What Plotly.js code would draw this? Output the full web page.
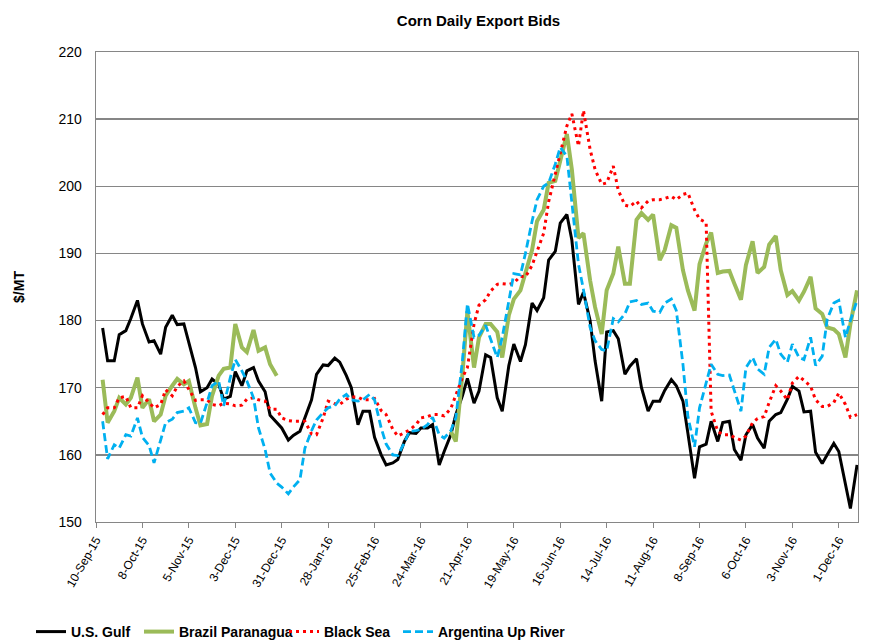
<!DOCTYPE html>
<html>
<head>
<meta charset="utf-8">
<script src="https://cdn.plot.ly/plotly-3.0.1.min.js"></script>
<style>html,body{margin:0;padding:0;background:#fff;}#chart{width:870px;height:643px;}</style>
</head>
<body>
<div id="chart"></div>
<script>
// Dates (Mondays & Thursdays)
const dates = [
"2015-09-14","2015-09-17","2015-09-21","2015-09-24","2015-09-28",
"2015-10-01","2015-10-05","2015-10-08","2015-10-12","2015-10-15","2015-10-19","2015-10-22","2015-10-26","2015-10-29",
"2015-11-02","2015-11-05","2015-11-09","2015-11-12","2015-11-16","2015-11-19","2015-11-23","2015-11-26","2015-11-30",
"2015-12-03","2015-12-07","2015-12-10","2015-12-14","2015-12-17","2015-12-21","2015-12-24","2015-12-28","2015-12-31",
"2016-01-04","2016-01-07","2016-01-11","2016-01-14","2016-01-18","2016-01-21","2016-01-25","2016-01-28",
"2016-02-01","2016-02-04","2016-02-08","2016-02-11","2016-02-15","2016-02-18","2016-02-22","2016-02-25","2016-02-29",
"2016-03-03","2016-03-07","2016-03-10","2016-03-14","2016-03-17","2016-03-21","2016-03-24","2016-03-28","2016-03-31",
"2016-04-04","2016-04-07","2016-04-11","2016-04-14","2016-04-18","2016-04-21","2016-04-25","2016-04-28",
"2016-05-02","2016-05-05","2016-05-09","2016-05-12","2016-05-16","2016-05-19","2016-05-23","2016-05-26","2016-05-30",
"2016-06-02","2016-06-06","2016-06-09","2016-06-13","2016-06-16","2016-06-20","2016-06-23","2016-06-27","2016-06-30",
"2016-07-04","2016-07-07","2016-07-11","2016-07-14","2016-07-18","2016-07-21","2016-07-25","2016-07-28",
"2016-08-01","2016-08-04","2016-08-08","2016-08-11","2016-08-15","2016-08-18","2016-08-22","2016-08-25","2016-08-29",
"2016-09-01","2016-09-05","2016-09-08","2016-09-12","2016-09-15","2016-09-19","2016-09-22","2016-09-26","2016-09-29",
"2016-10-03","2016-10-06","2016-10-10","2016-10-13","2016-10-17","2016-10-20","2016-10-24","2016-10-27","2016-10-31",
"2016-11-03","2016-11-07","2016-11-10","2016-11-14","2016-11-17","2016-11-21","2016-11-24","2016-11-28",
"2016-12-01","2016-12-05","2016-12-08","2016-12-12"
];

const usGulf = [
178.9,174.0,174.0,177.9,178.5,180.3,183.0,179.5,176.8,177.0,175.0,179.0,180.8,179.4,
179.5,176.8,173.0,169.4,170.0,171.3,170.5,168.3,168.7,
172.4,170.3,172.5,173.0,171.0,169.4,165.9,164.8,164.0,
162.2,162.9,163.5,165.5,168.2,172.0,173.4,173.3,
174.4,173.8,171.8,170.0,164.5,166.5,166.5,162.6,160.0,
158.5,158.8,159.3,162.0,163.3,163.2,164.0,164.0,164.5,
158.5,160.5,163.0,166.0,168.8,171.4,167.7,169.5,
174.9,174.5,168.5,166.5,173.3,176.5,173.9,176.4,182.6,
181.5,183.4,189.0,190.3,194.5,195.8,192.0,182.4,184.2,
180.0,174.0,168.0,178.3,178.5,177.3,172.0,173.2,
174.3,170.0,166.5,168.0,168.0,169.6,171.2,170.3,168.0,
163.2,156.5,161.2,161.6,165.0,162.0,164.8,165.0,160.8,
159.2,163.0,164.5,162.5,161.0,165.0,166.0,166.3,168.3,
170.2,169.5,166.4,166.5,160.4,158.7,160.0,161.7,
160.5,155.3,152.0,158.5
];

const brazil = [
171.2,164.8,166.5,168.5,167.5,168.5,171.5,167.0,168.3,165.0,166.0,168.8,170.3,171.3,
170.5,171.0,167.0,164.4,164.6,168.8,171.8,172.8,173.0,
179.5,176.0,175.3,178.6,175.5,176.0,173.5,171.8,null,
null,null,null,null,null,null,null,null,
null,null,null,null,null,null,null,null,null,
null,null,null,null,null,null,null,null,null,
null,null,163.5,162.0,172.0,181.4,173.0,177.5,
179.5,179.5,178.3,174.5,180.8,183.2,184.5,187.0,190.5,
194.8,196.5,200.5,200.8,203.8,207.8,202.5,192.3,193.0,
186.0,182.0,178.0,184.5,187.0,191.0,185.5,185.5,
195.0,196.0,195.0,195.8,189.0,190.5,194.2,193.8,187.5,
184.5,181.5,188.4,191.5,193.1,187.1,187.3,187.4,185.5,
183.1,188.3,191.8,187.1,188.0,191.3,192.6,187.5,183.8,
184.4,183.0,184.3,186.5,181.8,181.0,179.0,178.7,
178.0,174.5,179.5,184.5
];

const blackSea = [
166.0,167.0,167.0,168.5,168.7,167.0,167.0,168.8,167.8,167.0,167.5,169.7,168.8,170.2,
171.0,169.7,168.1,168.2,168.2,167.5,167.3,167.7,167.6,
167.3,167.4,168.3,168.5,168.2,168.0,166.8,166.8,165.5,
165.1,165.0,165.0,165.0,163.1,163.0,165.5,168.0,
167.6,167.5,168.3,168.6,168.6,168.2,168.2,168.4,166.6,
166.0,163.8,162.8,163.3,163.7,164.5,165.5,165.7,166.0,
166.0,165.8,166.9,168.8,171.5,173.0,179.5,182.3,
183.1,184.4,185.4,185.5,185.4,185.6,186.6,186.5,188.2,
190.3,193.0,197.7,201.8,204.8,209.0,210.8,206.0,211.3,
205.5,202.5,200.3,200.5,203.0,199.4,197.2,197.0,
197.8,196.8,197.8,198.0,198.0,198.2,198.5,198.0,198.8,
199.0,196.5,195.1,194.6,166.5,163.5,163.0,163.0,162.6,
162.2,162.8,164.8,165.4,165.7,167.8,170.3,169.5,168.2,
170.7,171.7,171.1,170.2,168.2,167.2,167.2,167.8,
169.2,167.5,165.6,166.0
];

const argentina = [
165.0,159.4,161.5,161.0,163.0,162.8,165.5,162.6,161.4,158.8,162.2,164.8,165.3,166.3,
166.5,167.0,164.8,164.7,167.8,170.3,171.0,167.3,171.5,
174.2,172.5,171.0,168.5,164.0,160.8,157.3,155.8,155.2,
154.2,155.2,156.3,161.0,163.6,165.2,166.3,167.0,
167.3,168.3,169.0,168.2,168.0,168.2,169.0,168.2,164.0,
161.6,160.0,159.9,161.8,163.5,163.6,163.8,164.5,165.6,
163.0,162.5,163.6,165.5,174.0,182.5,177.5,177.8,
179.3,177.2,174.5,177.5,183.0,187.0,186.8,190.0,194.8,
198.0,200.0,200.5,203.3,205.8,204.5,197.5,188.4,184.6,
179.0,177.0,175.7,175.5,180.3,179.8,181.0,182.8,
183.0,182.4,182.6,181.4,181.2,182.6,183.2,181.5,173.5,
165.7,161.2,167.0,170.5,173.5,172.0,171.8,171.9,169.7,
166.5,173.0,174.5,172.8,172.0,176.0,177.2,175.0,173.8,
176.5,174.5,174.2,177.5,173.3,174.7,180.2,182.6,
183.0,177.5,180.0,183.0
];

const tickDates = ["2015-09-10","2015-10-08","2015-11-05","2015-12-03","2015-12-31","2016-01-28","2016-02-25","2016-03-24","2016-04-21","2016-05-19","2016-06-16","2016-07-14","2016-08-11","2016-09-08","2016-10-06","2016-11-03","2016-12-01"];
const tickLabels = ["10-Sep-15","8-Oct-15","5-Nov-15","3-Dec-15","31-Dec-15","28-Jan-16","25-Feb-16","24-Mar-16","21-Apr-16","19-May-16","16-Jun-16","14-Jul-16","11-Aug-16","8-Sep-16","6-Oct-16","3-Nov-16","1-Dec-16"];

const traces = [
  {x: dates, y: usGulf, name: "<b>U.S. Gulf</b>", type: "scatter", mode: "lines", legend: "legend",
   line: {color: "#000000", width: 3}, connectgaps: false},
  {x: dates, y: brazil, name: "<b>Brazil Paranagua</b>", type: "scatter", mode: "lines", legend: "legend2",
   line: {color: "#9BBB59", width: 4}, connectgaps: false},
  {x: dates, y: blackSea, name: "<b>Black Sea</b>", type: "scatter", mode: "lines", legend: "legend3",
   line: {color: "#FF0000", width: 3, dash: "3px,4px"}},
  {x: dates, y: argentina, name: "<b>Argentina Up River</b>", type: "scatter", mode: "lines", legend: "legend4",
   line: {color: "#00B0F0", width: 2.8, dash: "8px,4px"}}
];

function leg(px) {
  return {orientation: "h", xref: "container", yref: "container", x: px / 870, xanchor: "left",
          y: 11 / 643, yanchor: "middle", font: {size: 14}, bgcolor: "rgba(0,0,0,0)"};
}

const layout = {
  width: 870, height: 643,
  margin: {l: 96, r: 12, t: 52, b: 121},
  paper_bgcolor: "#ffffff", plot_bgcolor: "#ffffff",
  font: {family: "Liberation Sans, Arial, sans-serif", color: "#000000", size: 13},
  title: {text: "<b>Corn Daily Export Bids</b>", x: 0.55, xanchor: "center", y: 0.968, yanchor: "middle",
          font: {size: 15, family: "Liberation Sans, Arial, sans-serif", color: "#000"}},
  xaxis: {
    type: "date", automargin: false,
    range: ["2015-09-10", "2016-12-12 14:00"],
    tickmode: "array", tickvals: tickDates, ticktext: tickLabels,
    tickangle: -60, tickfont: {size: 12},
    showgrid: false, showline: true, linecolor: "#868686", linewidth: 1.3, mirror: true,
    ticks: "outside", ticklen: 5, tickcolor: "#868686", zeroline: false
  },
  yaxis: {
    range: [150, 220], dtick: 10, tick0: 150, automargin: false,
    showgrid: true, gridcolor: "#868686", gridwidth: 1.3,
    showline: true, linecolor: "#868686", linewidth: 1.3, mirror: true,
    ticks: "", tickfont: {size: 14}, zeroline: false, ticklabelstandoff: 10,
    title: {text: "<b>$/MT</b>", font: {size: 14}, standoff: 30}
  },
  showlegend: true,
  legend: leg(31),
  legend2: leg(139),
  legend3: leg(284),
  legend4: leg(398)
};

Plotly.newPlot("chart", traces, layout, {displayModeBar: false, staticPlot: true});
</script>
</body>
</html>
